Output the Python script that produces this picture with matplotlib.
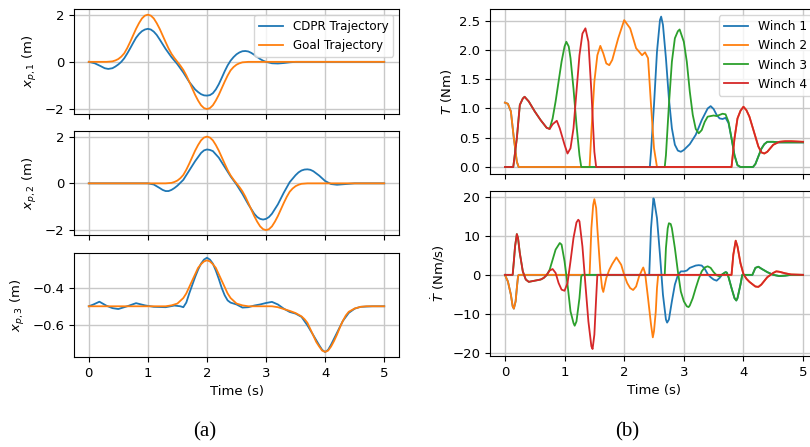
import matplotlib
matplotlib.use('Agg')
import matplotlib.pyplot as plt

# ---------------- data ----------------
# x_{p,1}
x1_goal_t = [0, 0.3, 0.35, 0.4, 0.45, 0.5, 0.55, 0.6, 0.65, 0.7, 0.75, 0.8, 0.85, 0.9, 0.95, 1.0,
             1.05, 1.1, 1.15, 1.2, 1.25, 1.3, 1.35, 1.4, 1.45, 1.5, 1.55, 1.6, 1.65, 1.7, 1.75, 1.8,
             1.85, 1.9, 1.95, 2.0, 2.05, 2.1, 2.15, 2.2, 2.25, 2.3, 2.35, 2.4, 2.45, 2.5, 2.55, 2.6,
             2.65, 2.7, 5.0]
x1_goal = [0, 0, 0.01, 0.02, 0.06, 0.12, 0.22, 0.36, 0.58, 0.84, 1.12, 1.4, 1.64, 1.84, 1.96, 2.0,
           1.96, 1.84, 1.64, 1.4, 1.12, 0.84, 0.57, 0.34, 0.16, 0.0, -0.16, -0.34, -0.57, -0.84, -1.12, -1.4,
           -1.64, -1.84, -1.96, -2.0, -1.96, -1.84, -1.64, -1.4, -1.12, -0.84, -0.58, -0.36, -0.22, -0.12,
           -0.06, -0.02, -0.01, 0, 0]
x1_cdpr_t = [0, 0.1, 0.2, 0.27, 0.33, 0.4, 0.45, 0.5, 0.55, 0.6, 0.65, 0.7, 0.75, 0.8, 0.85, 0.9, 0.95,
             1.0, 1.05, 1.1, 1.15, 1.2, 1.3, 1.4, 1.5, 1.6, 1.7, 1.8, 1.85, 1.9, 1.95, 2.0, 2.05, 2.1,
             2.15, 2.2, 2.25, 2.3, 2.35, 2.4, 2.45, 2.5, 2.55, 2.6, 2.65, 2.7, 2.75, 2.8, 2.85, 2.9,
             2.95, 3.0, 3.1, 3.2, 3.3, 3.4, 3.5, 5.0]
x1_cdpr = [0, -0.06, -0.18, -0.27, -0.3, -0.27, -0.2, -0.11, 0.0, 0.15, 0.35, 0.57, 0.8, 1.02, 1.18, 1.3,
           1.37, 1.4, 1.37, 1.28, 1.14, 0.95, 0.55, 0.2, -0.1, -0.45, -0.85, -1.17, -1.28, -1.37, -1.42, -1.43,
           -1.41, -1.33, -1.17, -0.95, -0.68, -0.4, -0.15, 0.05, 0.2, 0.32, 0.4, 0.45, 0.46, 0.44, 0.38, 0.3,
           0.21, 0.12, 0.05, 0.0, -0.06, -0.07, -0.05, -0.02, 0, 0]

# x_{p,2}
x2_goal_t = [0, 1.3, 1.35, 1.4, 1.45, 1.5, 1.55, 1.6, 1.65, 1.7, 1.75, 1.8, 1.85, 1.9, 1.95, 2.0,
             2.05, 2.1, 2.15, 2.2, 2.25, 2.3, 2.35, 2.4, 2.45, 2.5, 2.55, 2.6, 2.65, 2.7, 2.75, 2.8,
             2.85, 2.9, 2.95, 3.0, 3.05, 3.1, 3.15, 3.2, 3.25, 3.3, 3.35, 3.4, 3.45, 3.5, 3.55, 3.6,
             3.65, 3.7, 5.0]
x2_goal = [0, 0, 0.01, 0.02, 0.06, 0.12, 0.22, 0.36, 0.58, 0.84, 1.12, 1.4, 1.64, 1.84, 1.96, 2.0,
           1.96, 1.84, 1.64, 1.4, 1.12, 0.84, 0.57, 0.34, 0.16, 0.0, -0.16, -0.34, -0.57, -0.84, -1.12, -1.4,
           -1.64, -1.84, -1.96, -2.0, -1.96, -1.84, -1.64, -1.4, -1.12, -0.84, -0.58, -0.36, -0.22, -0.12,
           -0.06, -0.02, -0.01, 0, 0]
x2_cdpr_t = [0, 1.0, 1.1, 1.2, 1.25, 1.3, 1.35, 1.4, 1.45, 1.5, 1.6, 1.7, 1.8, 1.9, 1.95, 2.0, 2.05,
             2.1, 2.2, 2.3, 2.4, 2.5, 2.6, 2.7, 2.8, 2.85, 2.9, 2.95, 3.0, 3.05, 3.1, 3.2, 3.3, 3.4,
             3.5, 3.55, 3.6, 3.65, 3.7, 3.75, 3.8, 3.9, 4.0, 4.1, 4.2, 4.35, 4.5, 5.0]
x2_cdpr = [0, 0, -0.05, -0.2, -0.28, -0.33, -0.33, -0.28, -0.2, -0.1, 0.15, 0.55, 0.95, 1.3, 1.41, 1.45,
           1.43, 1.38, 1.1, 0.7, 0.3, -0.05, -0.45, -0.9, -1.3, -1.44, -1.52, -1.55, -1.52, -1.44, -1.3, -0.9,
           -0.4, 0.05, 0.35, 0.47, 0.55, 0.59, 0.6, 0.58, 0.52, 0.33, 0.1, -0.03, -0.06, -0.03, 0, 0]

# x_{p,3}
x3_goal_t = [0, 1.3, 1.4, 1.5, 1.6, 1.65, 1.7, 1.75, 1.8, 1.85, 1.9, 1.95, 2.0, 2.05, 2.1, 2.15, 2.2,
             2.25, 2.3, 2.35, 2.4, 2.5, 2.6, 2.7, 3.1, 3.2, 3.3, 3.4, 3.5, 3.6, 3.65, 3.7, 3.75, 3.8,
             3.85, 3.9, 3.95, 4.0, 4.05, 4.1, 4.15, 4.2, 4.25, 4.3, 4.35, 4.4, 4.5, 4.6, 4.7, 5.0]
x3_goal = [-0.5, -0.5, -0.495, -0.485, -0.455, -0.43, -0.395, -0.36, -0.325, -0.29, -0.27, -0.255, -0.249,
           -0.255, -0.27, -0.29, -0.325, -0.36, -0.395, -0.43, -0.455, -0.485, -0.495, -0.5, -0.5, -0.505,
           -0.515, -0.525, -0.537, -0.555, -0.57, -0.59, -0.625, -0.66, -0.695, -0.72, -0.742, -0.749,
           -0.742, -0.72, -0.69, -0.655, -0.615, -0.58, -0.55, -0.53, -0.512, -0.503, -0.5, -0.5]
x3_cdpr_t = [0, 0.08, 0.18, 0.3, 0.4, 0.5, 0.65, 0.8, 0.95, 1.1, 1.3, 1.45, 1.55, 1.6, 1.65, 1.7, 1.75,
             1.8, 1.85, 1.9, 1.95, 2.0, 2.05, 2.1, 2.15, 2.2, 2.25, 2.3, 2.35, 2.4, 2.5, 2.6, 2.7, 2.8,
             2.9, 3.0, 3.1, 3.2, 3.3, 3.4, 3.5, 3.6, 3.7, 3.8, 3.9, 3.95, 4.0, 4.05, 4.1, 4.2, 4.3, 4.4,
             4.5, 4.6, 4.8, 5.0]
x3_cdpr = [-0.5, -0.49, -0.475, -0.497, -0.51, -0.515, -0.5, -0.483, -0.495, -0.503, -0.505, -0.496, -0.5,
           -0.505, -0.48, -0.43, -0.385, -0.34, -0.3, -0.267, -0.245, -0.235, -0.245, -0.267, -0.305, -0.35,
           -0.4, -0.44, -0.468, -0.48, -0.49, -0.507, -0.505, -0.496, -0.49, -0.482, -0.476, -0.49, -0.513,
           -0.531, -0.54, -0.558, -0.604, -0.658, -0.713, -0.738, -0.75, -0.738, -0.71, -0.645, -0.58, -0.536,
           -0.513, -0.503, -0.5, -0.5]

# Winch torques T
T1_t = [0, 0.05, 0.1, 0.15, 0.2, 0.23, 2.43, 2.45, 2.5, 2.55, 2.6, 2.62, 2.65, 2.7, 2.75, 2.8, 2.85, 2.9, 2.95,
        3.0, 3.1, 3.2, 3.3, 3.4, 3.45, 3.5, 3.55, 3.6, 3.65, 3.7, 3.75, 3.8, 3.85, 3.9, 3.95, 4.16, 4.2, 4.25,
        4.3, 4.35, 4.4, 4.5, 4.6, 4.8, 5.0]
T1 = [1.1, 1.08, 0.95, 0.49, 0.09, 0, 0, 0.26, 1.06, 1.97, 2.51, 2.57, 2.43, 1.86, 1.17, 0.66, 0.38, 0.28, 0.26,
      0.29, 0.39, 0.55, 0.8, 1.0, 1.04, 0.99, 0.89, 0.83, 0.82, 0.84, 0.75, 0.49, 0.2, 0.03, 0, 0, 0.05, 0.18,
      0.31, 0.39, 0.43, 0.43, 0.42, 0.42, 0.42]
T2_t = [0, 0.05, 0.1, 0.15, 0.2, 0.23, 1.42, 1.45, 1.5, 1.55, 1.6, 1.65, 1.7, 1.75, 1.8, 1.9, 2.0, 2.1, 2.2,
        2.3, 2.35, 2.4, 2.45, 2.5, 2.55, 3.8, 3.85, 3.9, 3.95, 4.0, 4.05, 4.1, 4.15, 4.2, 4.25, 4.3, 4.35,
        4.4, 4.5, 4.6, 4.7, 4.8, 5.0]
T2 = [1.1, 1.08, 0.95, 0.49, 0.09, 0, 0, 0.6, 1.46, 1.91, 2.07, 1.94, 1.77, 1.74, 1.83, 2.2, 2.51, 2.37, 2.03,
      1.91, 1.96, 1.86, 1.06, 0.32, 0, 0, 0.49, 0.83, 0.96, 1.03, 0.97, 0.86, 0.69, 0.52, 0.35, 0.25, 0.23,
      0.26, 0.38, 0.43, 0.44, 0.44, 0.43]
T3_t = [0, 0.14, 0.2, 0.25, 0.3, 0.33, 0.4, 0.5, 0.6, 0.7, 0.75, 0.8, 0.85, 0.9, 0.95, 1.0, 1.03, 1.07, 1.1,
        1.15, 1.2, 1.25, 1.28, 2.68, 2.7, 2.75, 2.8, 2.85, 2.9, 2.93, 3.0, 3.05, 3.1, 3.15, 3.2, 3.25, 3.3,
        3.35, 3.4, 3.5, 3.55, 3.6, 3.65, 3.7, 3.75, 3.8, 3.85, 3.9, 3.95, 4.16, 4.2, 4.25, 4.3, 4.35, 4.4,
        4.5, 4.6, 4.8, 5.0]
T3 = [0, 0, 0.49, 1.06, 1.17, 1.2, 1.12, 0.95, 0.8, 0.67, 0.65, 0.83, 1.12, 1.46, 1.8, 2.06, 2.14, 2.06, 1.86,
      1.34, 0.72, 0.2, 0, 0, 0.2, 1.06, 1.8, 2.2, 2.32, 2.35, 2.14, 1.8, 1.29, 0.89, 0.65, 0.575, 0.63, 0.77,
      0.86, 0.88, 0.87, 0.89, 0.91, 0.9, 0.77, 0.49, 0.2, 0.03, 0, 0, 0.05, 0.18, 0.31, 0.39, 0.43, 0.43,
      0.42, 0.42, 0.42]
T4_t = [0, 0.14, 0.2, 0.25, 0.3, 0.33, 0.4, 0.5, 0.6, 0.7, 0.75, 0.8, 0.87, 0.92, 1.0, 1.05, 1.1, 1.15, 1.2,
        1.25, 1.3, 1.35, 1.4, 1.45, 1.5, 1.53, 3.8, 3.85, 3.9, 3.95, 4.0, 4.05, 4.1, 4.15, 4.2, 4.25, 4.3,
        4.35, 4.4, 4.5, 4.6, 4.7, 4.8, 5.0]
T4 = [0, 0, 0.49, 1.06, 1.17, 1.2, 1.12, 0.95, 0.8, 0.67, 0.65, 0.73, 0.79, 0.66, 0.38, 0.23, 0.32, 0.66, 1.29,
      1.91, 2.28, 2.37, 2.14, 1.29, 0.26, 0, 0, 0.49, 0.83, 0.96, 1.03, 0.97, 0.86, 0.69, 0.52, 0.35, 0.25,
      0.23, 0.26, 0.38, 0.43, 0.44, 0.44, 0.43]

# Torque rates dT/dt
dT1_t = [0, 0.05, 0.1, 0.13, 0.15, 0.18, 0.2, 0.22, 0.23, 2.42, 2.45, 2.49, 2.5, 2.55, 2.6, 2.65, 2.7, 2.72,
         2.75, 2.8, 2.85, 2.9, 2.95, 3.0, 3.05, 3.1, 3.2, 3.25, 3.3, 3.35, 3.4, 3.45, 3.5, 3.55, 3.6, 3.65,
         3.7, 3.72, 3.75, 3.8, 3.85, 3.88, 3.9, 3.95, 3.98, 4.15, 4.2, 4.25, 4.3, 4.4, 4.5, 4.6, 4.7, 4.8, 5.0]
dT1 = [0, -1.7, -5.1, -8.1, -8.7, -6.8, -3.4, -0.4, 0, 0, 12.0, 19.7, 19.4, 14.6, 5.2, -5.1, -11.5, -12.3,
       -11.5, -6.8, -2.5, -0.1, 0.9, 0.9, 1.1, 1.8, 2.4, 2.5, 2.4, 1.6, 0.2, -0.6, -1.2, -1.5, -0.8, 0.2, 0.7,
       0.6, -0.6, -3.4, -6.0, -6.6, -6.0, -2.5, 0, 0, 1.8, 2.1, 1.6, 0.7, 0, -0.3, -0.2, 0, 0]
dT2_t = [0, 0.05, 0.1, 0.13, 0.15, 0.18, 0.2, 0.22, 0.23, 1.42, 1.45, 1.48, 1.5, 1.53, 1.55, 1.6, 1.63, 1.65,
         1.7, 1.75, 1.8, 1.87, 1.95, 2.0, 2.05, 2.1, 2.15, 2.2, 2.25, 2.3, 2.32, 2.35, 2.4, 2.45, 2.48, 2.5,
         2.53, 2.55, 2.57, 3.8, 3.83, 3.87, 3.9, 3.95, 4.0, 4.05, 4.1, 4.2, 4.25, 4.3, 4.4, 4.5, 4.55, 4.6,
         4.7, 4.8, 5.0]
dT2 = [0, -1.7, -5.1, -8.1, -8.7, -6.8, -3.4, -0.4, 0, 0, 12.0, 18.0, 19.5, 17.2, 12.0, 0.9, -3.4, -4.4, -0.8,
       1.3, 2.8, 4.5, 2.6, 0, -2.1, -3.4, -3.9, -3.0, -0.4, 1.3, 1.9, 0.5, -6.0, -12.8, -16.1, -14.5, -9.4,
       -3.4, 0, 0, 5.2, 8.8, 7.3, 3.0, 0.2, -1.0, -1.8, -3.0, -3.1, -2.5, -0.6, 0.5, 0.9, 0.8, 0.4, 0.1, 0]
dT3_t = [0, 0.13, 0.15, 0.17, 0.2, 0.22, 0.25, 0.3, 0.35, 0.4, 0.5, 0.6, 0.65, 0.7, 0.75, 0.8, 0.85, 0.92,
         0.95, 1.0, 1.05, 1.1, 1.15, 1.17, 1.2, 1.25, 1.28, 1.3, 2.68, 2.7, 2.73, 2.75, 2.78, 2.8, 2.85, 2.9,
         2.95, 3.0, 3.05, 3.08, 3.1, 3.15, 3.2, 3.25, 3.3, 3.35, 3.4, 3.45, 3.5, 3.55, 3.6, 3.65, 3.7, 3.72,
         3.75, 3.8, 3.85, 3.88, 3.9, 3.95, 3.98, 4.15, 4.2, 4.25, 4.3, 4.4, 4.5, 4.6, 4.7, 4.8, 5.0]
dT3 = [0, 0, 3.5, 7.3, 10.5, 9.5, 5.6, 0.9, -1.2, -1.8, -1.5, -1.2, -0.8, -0.1, 1.3, 3.9, 6.5, 8.2, 7.8, 3.5,
       -2.5, -9.4, -12.4, -13.1, -12.0, -6.0, -0.4, 0, 0, 6.9, 12.0, 13.3, 13.1, 12.0, 6.9, 0.9, -4.3, -6.8,
       -8.1, -8.3, -7.9, -6.0, -3.4, -1.0, 0.9, 1.9, 2.2, 1.8, 0.7, -0.1, -0.4, 0.2, 0.7, 0.6, -0.6, -3.4,
       -6.0, -6.6, -6.0, -2.5, 0, 0, 1.8, 2.1, 1.6, 0.7, 0, -0.3, -0.2, 0, 0]
dT4_t = [0, 0.13, 0.15, 0.17, 0.2, 0.22, 0.25, 0.3, 0.35, 0.4, 0.5, 0.6, 0.65, 0.7, 0.75, 0.8, 0.85, 0.9, 0.95,
         1.0, 1.05, 1.1, 1.15, 1.2, 1.23, 1.25, 1.3, 1.35, 1.4, 1.45, 1.47, 1.5, 1.53, 1.55, 3.8, 3.83, 3.87,
         3.9, 3.95, 4.0, 4.05, 4.1, 4.2, 4.25, 4.3, 4.4, 4.5, 4.55, 4.6, 4.7, 4.8, 5.0]
dT4 = [0, 0, 3.5, 7.3, 10.5, 9.5, 5.6, 0.9, -1.2, -1.8, -1.5, -1.2, -0.8, 0, 1.1, 1.5, 0.5, -2.1, -3.8, -4.1,
       -2.1, 3.5, 9.5, 13.5, 14.2, 13.8, 7.3, -2.5, -12.0, -18.4, -19.1, -15.4, -6.0, 0, 0, 5.2, 8.8, 7.3,
       3.0, 0.2, -1.0, -1.8, -3.0, -3.1, -2.5, -0.6, 0.5, 0.9, 0.8, 0.4, 0.1, 0]

time_ticks = [0, 1, 2, 3, 4, 5]
left_labels = [r'$x_{p,1}$ (m)', r'$x_{p,2}$ (m)', r'$x_{p,3}$ (m)']
winch_labels = ['Winch 1', 'Winch 2', 'Winch 3', 'Winch 4']

# ---------------- figure ----------------
FS = 9.5
plt.rcParams['font.family'] = ['DejaVu Sans']
plt.rcParams['font.size'] = FS
fig = plt.figure(figsize=(8.1, 4.47), dpi=100)
W, H = 810.0, 447.0


def add_ax(x0, y0, x1, y1):
    return fig.add_axes([x0 / W, 1 - y1 / H, (x1 - x0) / W, (y1 - y0) / H])


ax1 = add_ax(74, 9, 399, 114)
ax2 = add_ax(74, 131, 399, 235)
ax3 = add_ax(74, 253, 399, 357)
axT = add_ax(490, 9.3, 818, 174)
axD = add_ax(490, 191, 818, 356)

LW = 1.3
c_blue, c_orange, c_green, c_red = '#1f77b4', '#ff7f0e', '#2ca02c', '#d62728'

ax1.plot(x1_cdpr_t, x1_cdpr, color=c_blue, lw=LW, label='CDPR Trajectory')
ax1.plot(x1_goal_t, x1_goal, color=c_orange, lw=LW, label='Goal Trajectory')
ax2.plot(x2_cdpr_t, x2_cdpr, color=c_blue, lw=LW)
ax2.plot(x2_goal_t, x2_goal, color=c_orange, lw=LW)
ax3.plot(x3_cdpr_t, x3_cdpr, color=c_blue, lw=LW)
ax3.plot(x3_goal_t, x3_goal, color=c_orange, lw=LW)

for (tt, vv), c, lab in zip([(T1_t, T1), (T2_t, T2), (T3_t, T3), (T4_t, T4)],
                            [c_blue, c_orange, c_green, c_red], winch_labels):
    axT.plot(tt, vv, color=c, lw=LW, label=lab)
for (tt, vv), c in zip([(dT1_t, dT1), (dT2_t, dT2), (dT3_t, dT3), (dT4_t, dT4)],
                       [c_blue, c_orange, c_green, c_red]):
    axD.plot(tt, vv, color=c, lw=LW)

for ax in [ax1, ax2, ax3, axT, axD]:
    ax.set_xlim(-0.25, 5.25)
    ax.set_xticks(time_ticks)
    ax.grid(True, color='#c8c8c8', lw=1.0)
    ax.tick_params(labelsize=FS)
for ax in [ax1, ax2, axT]:
    ax.tick_params(labelbottom=False)

ax1.set_yticks([-2, 0, 2])
ax2.set_yticks([-2, 0, 2])
ax3.set_yticks([-0.6, -0.4])
ax1.set_ylim(-2.21, 2.24)
ax2.set_ylim(-2.21, 2.24)
ax3.set_ylim(-0.777, -0.209)
axT.set_yticks([0, 0.5, 1.0, 1.5, 2.0, 2.5])
axT.set_ylim(-0.12, 2.695)
axD.set_yticks([-20, -10, 0, 10, 20])
axD.set_ylim(-20.9, 21.6)

for ax, lab in zip([ax1, ax2, ax3], left_labels):
    ax.set_ylabel(lab, fontsize=FS)
axT.set_ylabel(r'$T$ (Nm)', fontsize=FS)
axD.set_ylabel(r'$\dot{T}$ (Nm/s)', fontsize=FS)
ax3.set_xlabel('Time (s)', fontsize=FS)
axD.set_xlabel('Time (s)', fontsize=FS)

ax1.legend(loc='upper right', fontsize=8.6)
axT.legend(loc='upper right', fontsize=8.8)

fig.text(205 / W, 1 - 432 / H, '(a)', family='Liberation Serif', fontsize=15, ha='center', va='center')
fig.text(627 / W, 1 - 432 / H, '(b)', family='Liberation Serif', fontsize=15, ha='center', va='center')

fig.savefig('out.png', dpi=100)
